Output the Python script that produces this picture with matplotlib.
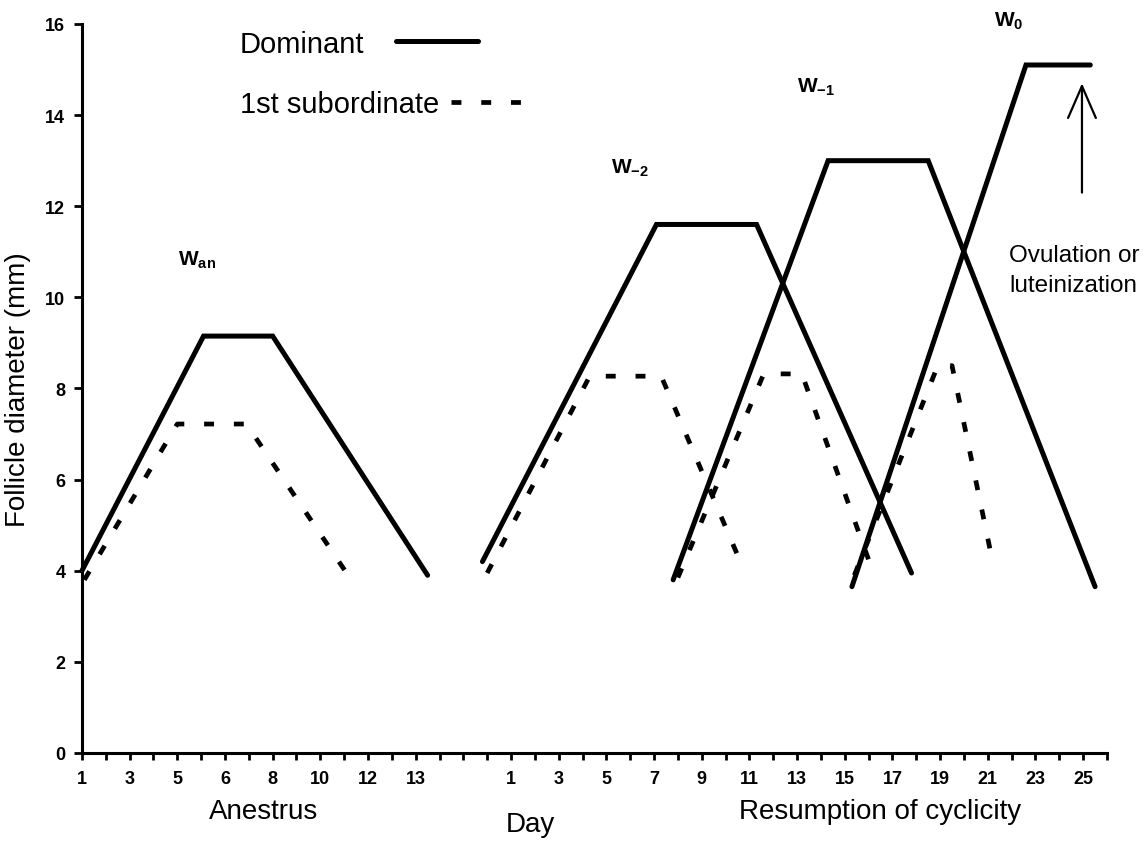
import matplotlib
matplotlib.use('Agg')
import matplotlib.pyplot as plt

plt.rcParams['font.family'] = ['Liberation Sans', 'DejaVu Sans']
plt.rcParams['mathtext.fontset'] = 'custom'
plt.rcParams['mathtext.rm'] = 'Liberation Sans'
plt.rcParams['mathtext.bf'] = 'Liberation Sans:bold'

# x is a running position along the axis (one tick per unit)
anestrus_ticks = ['1', '3', '5', '6', '8', '10', '12', '13']
cycle_ticks = ['1', '3', '5', '7', '9', '11', '13', '15', '17', '19', '21', '23', '25']

# dominant follicles (start, plateau start, plateau end, end)
wan_dom_x = [0.0, 5.1, 8.0, 14.5]
wan_dom_y = [4.0, 9.15, 9.15, 3.9]
w2_dom_x = [16.8, 24.1, 28.3, 34.8]
w2_dom_y = [4.2, 11.6, 11.6, 3.95]
w1_dom_x = [24.8, 31.3, 35.5, 42.5]
w1_dom_y = [3.8, 13.0, 13.0, 3.65]
w0_dom_x = [32.3, 39.6, 42.3]
w0_dom_y = [3.65, 15.1, 15.1]

# 1st subordinate follicles
wan_sub_x = [0.1, 4.0, 6.9, 11.1]
wan_sub_y = [3.8, 7.22, 7.22, 3.95]
w2_sub_x = [17.0, 21.3, 24.3, 27.7]
w2_sub_y = [3.95, 8.27, 8.27, 4.1]
w1_sub_x = [25.0, 28.6, 30.2, 33.2]
w1_sub_y = [3.85, 8.32, 8.32, 3.95]
w0_sub_x = [32.4, 35.9, 36.5, 38.2]
w0_sub_y = [3.9, 8.5, 8.5, 4.2]

wave_names = [r'$\mathbf{W_{an}}$', r'$\mathbf{W_{-2}}$', r'$\mathbf{W_{-1}}$', r'$\mathbf{W_{0}}$']
wave_name_x = [4.83, 23.0, 30.8, 38.9]
wave_name_y = [10.84, 12.86, 14.64, 16.07]

fig = plt.figure(figsize=(11.43, 8.53), dpi=100)
ax = fig.add_axes([0.0717, 0.1161, 0.8968, 0.8546])

doms = [(wan_dom_x, wan_dom_y), (w2_dom_x, w2_dom_y), (w1_dom_x, w1_dom_y), (w0_dom_x, w0_dom_y)]
subs = [(wan_sub_x, wan_sub_y), (w2_sub_x, w2_sub_y), (w1_sub_x, w1_sub_y), (w0_sub_x, w0_sub_y)]

dom_lines = []
for x, y in doms:
    dom_lines += ax.plot(x, y, color='black', lw=3.6, solid_capstyle='round',
                         solid_joinstyle='miter', clip_on=False)
sub_lines = []
for x, y in subs:
    sub_lines += ax.plot(x, y, color='black', lw=3.4, dashes=(2.1, 4.2),
                         dash_capstyle='butt', clip_on=False)

for name, x, y in zip(wave_names, wave_name_x, wave_name_y):
    ax.text(x, y, name, fontsize=15, ha='center', va='center')

ax.annotate('', xy=(41.95, 14.7), xytext=(41.95, 12.3),
            arrowprops=dict(arrowstyle='->,head_length=1.15,head_width=0.5',
                            lw=1.6, color='black', mutation_scale=20,
                            shrinkA=0, shrinkB=0))
ax.text(38.9, 10.6, 'Ovulation or\nluteinization', fontsize=17.5, ha='left', va='center',
        linespacing=1.5)

ax.set_xlim(0, 43)
ax.set_ylim(0, 16)
for s in ['top', 'right']:
    ax.spines[s].set_visible(False)
for s in ['left', 'bottom']:
    ax.spines[s].set_linewidth(2.2)

tick_pos = list(range(44))
tick_lab = [''] * 44
for i, t in enumerate(anestrus_ticks):
    tick_lab[2 * i] = t
for i, t in enumerate(cycle_ticks):
    tick_lab[18 + 2 * i] = t
ax.set_xticks(tick_pos)
ax.set_xticklabels(tick_lab, fontweight='bold')
ax.set_yticks(range(0, 17, 2))
ax.set_yticklabels([str(v) for v in range(0, 17, 2)], fontweight='bold')
ax.tick_params(axis='x', length=5, width=2, pad=7, labelsize=13)
ax.tick_params(axis='y', length=6, width=2, pad=6, labelsize=13)

ax.set_ylabel('Follicle diameter (mm)', fontsize=20, labelpad=10)
ax.text(7.6, -1.27, 'Anestrus', fontsize=20, ha='center', va='center')
ax.text(18.8, -1.55, 'Day', fontsize=20, ha='center', va='center')
ax.text(33.5, -1.27, 'Resumption of cyclicity', fontsize=20, ha='center', va='center')

# two one-entry legends so each key sits right after its own label
leg1 = ax.legend([dom_lines[0]], ['Dominant'], loc='center left', bbox_to_anchor=(0.154, 0.973),
                 frameon=False, markerfirst=False, fontsize=21, handlelength=2.8,
                 handletextpad=1.1, borderpad=0, borderaxespad=0)
ax.add_artist(leg1)
ax.legend([sub_lines[0]], ['1st subordinate'], loc='center left', bbox_to_anchor=(0.154, 0.89),
          frameon=False, markerfirst=False, fontsize=21, handlelength=2.7,
          handletextpad=0.4, borderpad=0, borderaxespad=0)

fig.savefig('out.png', dpi=100)
